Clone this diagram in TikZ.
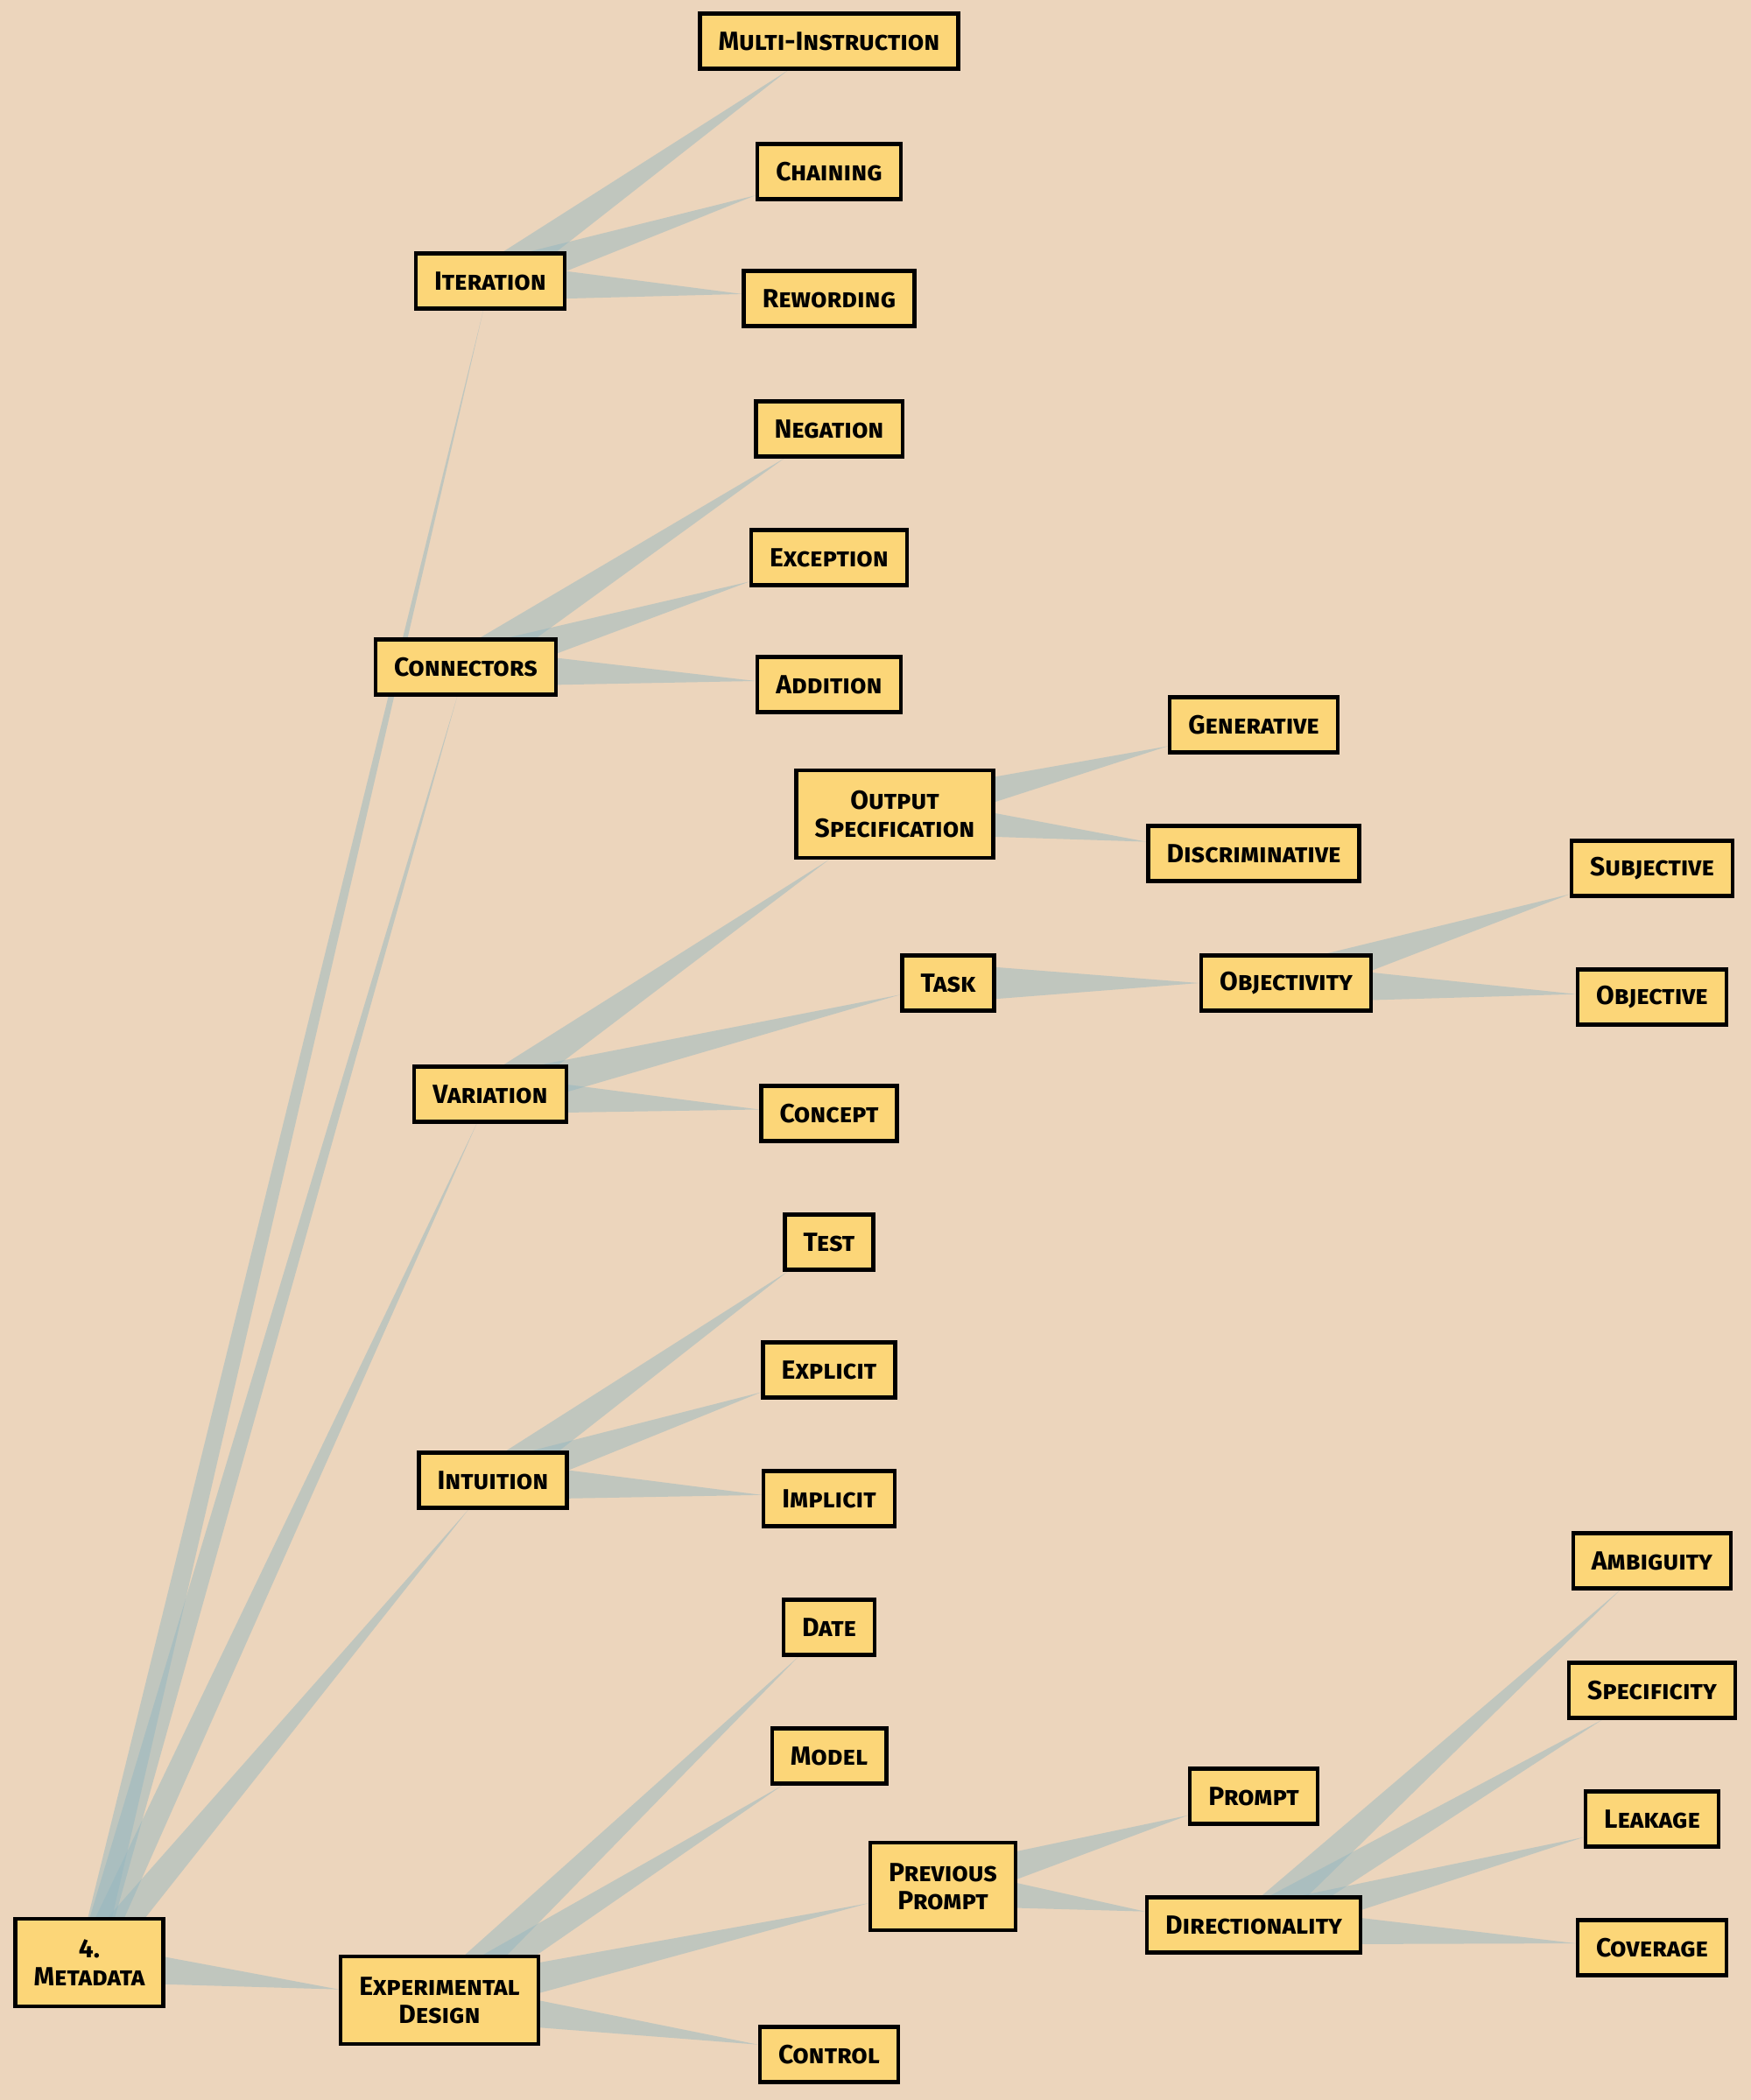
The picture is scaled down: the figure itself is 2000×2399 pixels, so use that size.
\documentclass[tikz,border=0pt]{standalone}
\usepackage{fontspec}
\setmainfont{Fira Sans}
\usetikzlibrary{calc,backgrounds}
\definecolor{paper}{RGB}{236,213,188}
\definecolor{cardfill}{RGB}{252,214,120}
\definecolor{twigcol}{RGB}{150,184,192}
\newcommand{\taper}[2]{%
  \path (#1.center) -- (#2) coordinate[pos=1] (tip);
  \fill[twig] let \p1 = ($(#2.center)-(#1.center)$), \n1 = {5.6pt*(0.5+0.5*abs(\x1)/veclen(\x1,\y1))} in
    ($(#1.center)!\n1!90:(#2.center)$) -- (tip) -- ($(#1.center)!\n1!-90:(#2.center)$) -- cycle;}
\begin{document}
\begin{tikzpicture}[x=0.25pt,y=-0.25pt,
    card/.style={draw=black, line width=1.1pt, fill=cardfill, rectangle, inner xsep=5.3pt, inner ysep=0pt,
      minimum height=15.7pt, align=center, font=\fontsize{7.5}{8}\selectfont\bfseries\scshape},
    twig/.style={fill=twigcol, fill opacity=0.5}]
    \useasboundingbox (0,0) rectangle (2000,2399);

    \node [card, minimum height=25pt] (meta) at (102,2242) {4.\\Metadata};
    \node [card, minimum height=25pt] (expd) at (502,2285) {Experimental\\Design};

    \node [card] (iter) at (560,321) {Iteration};
    \node [card] (conn) at (532,762) {Connectors};
    \node [card] (vari) at (560,1250) {Variation};
    \node [card] (intu) at (563,1691) {Intuition};

    \node [card] (multi) at (947,47) {Multi-Instruction};
    \node [card] (chain) at (947,196) {Chaining};
    \node [card] (reword) at (947,341) {Rewording};
    \node [card] (neg) at (947,490) {Negation};
    \node [card] (exc) at (947,637) {Exception};
    \node [card] (add) at (947,782) {Addition};

    \node [card, minimum height=25pt] (outspec) at (1022,930) {Output\\Specification};
    \node [card] (gen) at (1432,828) {Generative};
    \node [card] (disc) at (1432,975) {Discriminative};
    \node [card] (task) at (1083,1123) {Task};
    \node [card] (objy) at (1469,1123) {Objectivity};
    \node [card] (subj) at (1887,992) {Subjective};
    \node [card] (obj) at (1887,1139) {Objective};
    \node [card] (concept) at (947,1272) {Concept};

    \node [card] (test) at (947,1419) {Test};
    \node [card] (expl) at (947,1565) {Explicit};
    \node [card] (impl) at (947,1712) {Implicit};

    \node [card] (date) at (947,1859) {Date};
    \node [card] (model) at (947,2006) {Model};
    \node [card, minimum height=25pt] (prev) at (1077,2155) {Previous\\Prompt};
    \node [card] (prompt) at (1432,2052) {Prompt};
    \node [card] (dir) at (1432,2199) {Directionality};
    \node [card] (control) at (947,2347) {Control};
    \node [card] (amb) at (1887,1783) {Ambiguity};
    \node [card] (spec) at (1887,1931) {Specificity};
    \node [card] (leak) at (1887,2078) {Leakage};
    \node [card] (cov) at (1887,2225) {Coverage};

    \begin{pgfonlayer}{background}
    \fill[paper] (0,0) rectangle (2000,2399);
    \taper{meta}{iter} \taper{meta}{conn} \taper{meta}{vari} \taper{meta}{intu} \taper{meta}{expd}
    \taper{iter}{multi} \taper{iter}{chain} \taper{iter}{reword}
    \taper{conn}{neg} \taper{conn}{exc} \taper{conn}{add}
    \taper{vari}{outspec} \taper{vari}{task} \taper{vari}{concept}
    \taper{outspec}{gen} \taper{outspec}{disc}
    \taper{task}{objy} \taper{objy}{subj} \taper{objy}{obj}
    \taper{intu}{test} \taper{intu}{expl} \taper{intu}{impl}
    \taper{expd}{date} \taper{expd}{model} \taper{expd}{prev} \taper{expd}{control}
    \taper{prev}{prompt} \taper{prev}{dir}
    \taper{dir}{amb} \taper{dir}{spec} \taper{dir}{leak} \taper{dir}{cov}
    \end{pgfonlayer}
\end{tikzpicture}
\end{document}
